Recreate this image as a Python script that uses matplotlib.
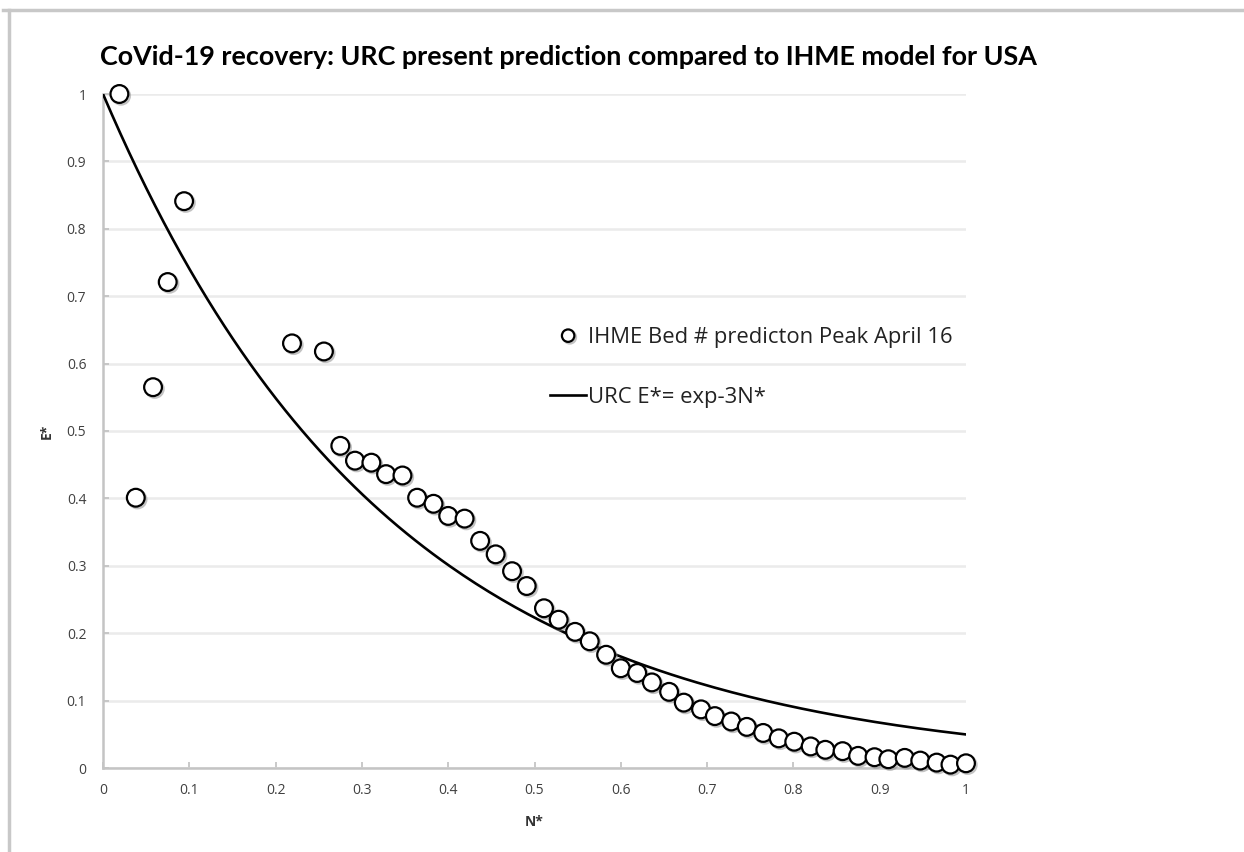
import numpy as np
import matplotlib
matplotlib.use("Agg")
import matplotlib.pyplot as plt
import matplotlib.patheffects as pe
from matplotlib.lines import Line2D

# IHME bed-count prediction, normalised
n_star = [0.019, 0.038, 0.058, 0.075, 0.094, 0.219, 0.256, 0.275, 0.292, 0.311,
          0.328, 0.347, 0.364, 0.383, 0.400, 0.419, 0.437, 0.455, 0.474, 0.491,
          0.511, 0.528, 0.547, 0.564, 0.583, 0.600, 0.619, 0.636, 0.656, 0.673,
          0.693, 0.709, 0.728, 0.746, 0.765, 0.783, 0.801, 0.820, 0.837, 0.857,
          0.875, 0.894, 0.910, 0.929, 0.947, 0.966, 0.982, 1.000]
e_star = [1.000, 0.401, 0.565, 0.721, 0.841, 0.630, 0.618, 0.478, 0.456, 0.453,
          0.436, 0.434, 0.401, 0.392, 0.374, 0.370, 0.337, 0.317, 0.292, 0.270,
          0.237, 0.220, 0.202, 0.188, 0.168, 0.148, 0.141, 0.127, 0.113, 0.097,
          0.087, 0.077, 0.069, 0.061, 0.052, 0.044, 0.039, 0.032, 0.027, 0.025,
          0.018, 0.016, 0.013, 0.015, 0.011, 0.008, 0.005, 0.007]

# URC model E* = exp(-K N*)
K = 3.0
n_curve = np.linspace(0, 1, 200)
e_curve = np.exp(-K * n_curve)

ticks = [0, 0.1, 0.2, 0.3, 0.4, 0.5, 0.6, 0.7, 0.8, 0.9, 1.0]
tick_labels = ["0", "0.1", "0.2", "0.3", "0.4", "0.5", "0.6", "0.7", "0.8", "0.9", "1"]

TITLE = "CoVid-19 recovery: URC present prediction compared to IHME model for USA"
LBL_DATA = "IHME Bed # predicton Peak April 16"
LBL_CURVE = "URC E*= exp-3N*"

plt.rcParams["font.family"] = ["Open Sans", "DejaVu Sans"]

W, H = 1244, 852
fig = plt.figure(figsize=(W / 100, H / 100), dpi=100)
ax = fig.add_axes([103 / W, 1 - 768 / H, (966 - 103) / W, (768 - 94) / H])

ax.plot(n_curve, e_curve, color="black", lw=1.9, label=LBL_CURVE, zorder=3)
ax.plot(n_star, e_star, ls="none", marker="o", ms=12.8, mfc="white", mec="black",
        mew=1.6, label=LBL_DATA, clip_on=False, zorder=4,
        path_effects=[pe.SimpleLineShadow(offset=(1.2, -1.2), shadow_color="#888888", alpha=0.5),
                      pe.Normal()])

ax.set_xlim(0, 1)
ax.set_ylim(0, 1)
ax.set_xticks(ticks)
ax.set_xticklabels(tick_labels)
ax.set_yticks(ticks)
ax.set_yticklabels(tick_labels)
ax.tick_params(direction="in", length=4, width=1.2, color="#c0c0c0",
               labelsize=10, labelcolor="#404040")
ax.tick_params(axis="x", pad=11)
ax.tick_params(axis="y", pad=12)
ax.grid(axis="y", color="#ebebeb", lw=1.8)
ax.set_axisbelow(True)
for s in ["top", "right"]:
    ax.spines[s].set_visible(False)
for s in ["left", "bottom"]:
    ax.spines[s].set_color("#c4c4c4")
    ax.spines[s].set_linewidth(1.8)

ax.set_xlabel("N*", fontsize=10, fontweight="bold", color="#333333", labelpad=12)
ax.set_ylabel("E*", fontsize=10, fontweight="bold", color="#333333", labelpad=9)

h, l = ax.get_legend_handles_labels()
ax.legend(h[::-1], l[::-1], loc="center left", bbox_to_anchor=(0.518, 0.594),
          frameon=False, fontsize=15.8, handlelength=1.65, handletextpad=0.1,
          labelspacing=1.76, markerscale=0.7, borderpad=0, borderaxespad=0,
          labelcolor="#222222")

fig.text(100 / W, 1 - 57 / H, TITLE, fontsize=19.4, fontweight="bold",
         family=["Lato", "DejaVu Sans"], va="center", ha="left")

# grey frame on top and left edges
fig.add_artist(Line2D([3 / W, 1], [1 - 9.5 / H, 1 - 9.5 / H], color="#c8c8c8", lw=2.5))
fig.add_artist(Line2D([9 / W, 9 / W], [0, 1 - 9.5 / H], color="#c8c8c8", lw=2.5))

fig.savefig("out.png", dpi=100)
